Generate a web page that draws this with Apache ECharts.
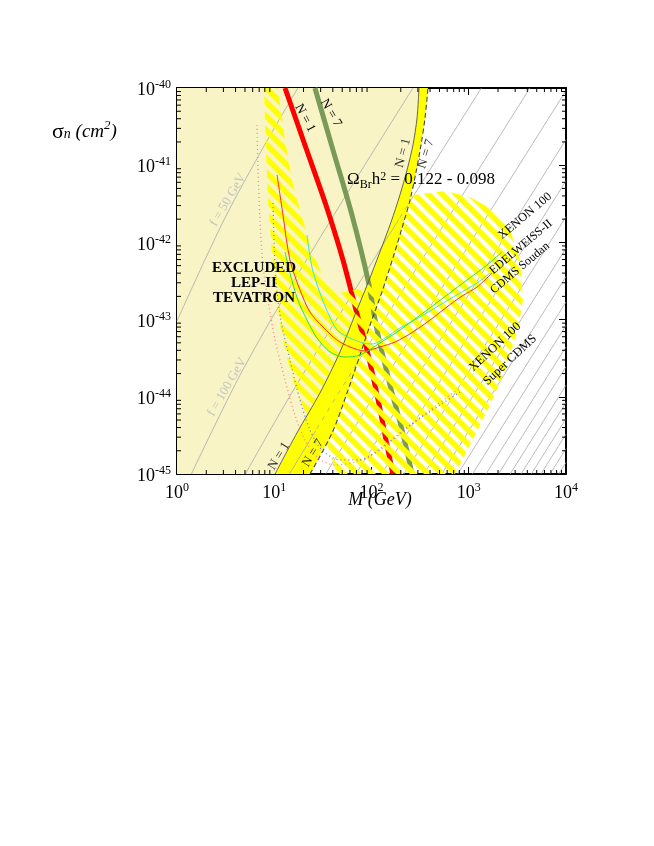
<!DOCTYPE html>
<html><head><meta charset="utf-8">
<script src="https://cdn.jsdelivr.net/npm/echarts@6/dist/echarts.min.js"></script>
<style>html,body{margin:0;padding:0;background:#fff}#c{width:654px;height:846px}</style>
</head><body><div id="c"></div>
<script>
// ---------- data (M in GeV, sigma in cm^2) ----------
const xRange = [1, 1e4];
const yRange = [1e-45, 1e-40];

// yellow relic band: N=1 edge (solid) and N=7 edge (dashed)
const bandN1 = [[10.2,1e-45],[17.1,3.40e-45],[29.5,1.12e-44],[47.4,3.80e-44],[67.6,1.15e-43],[92.0,2.98e-43],[122,7.51e-43],[159,1.84e-42],[196,4.11e-42],[232,8.67e-42],[267,1.83e-41],[294,4.09e-41],[308,1e-40]];
const bandN7 = [[23.3,1e-45],[39.3,3.40e-45],[56.0,1.12e-44],[76.2,3.48e-44],[96.6,8.51e-44],[128,2.28e-43],[166,6.28e-43],[206,1.54e-42],[249,3.54e-42],[287,8.16e-42],[323,1.83e-41],[355,4.09e-41],[381,1e-40]];

// hatched (projected sensitivity) region outline
const hatchRegion = [[7.85,1e-40],[10.9,1e-40],[12.9,2.12e-41],[15.2,6.43e-42],[18.4,2.63e-42],[23.3,9.25e-43],[31.0,3.78e-43],[47.4,2.21e-43],[85.7,2.57e-43],[122,5.09e-43],[163,1.07e-42],[206,2.63e-42],[267,4.11e-42],[570,4.63e-42],[1030,3.87e-42],[1775,2.63e-42],[2655,1.45e-42],[3365,5.92e-43],[3610,1.79e-43],[3205,7.33e-44],[2360,2.22e-44],[1655,7.83e-45],[1030,2.38e-45],[722,1e-45],[44.2,1e-45],[33.3,2.76e-45],[24.4,4.06e-45],[18.4,9.09e-45],[14.5,2.22e-44],[11.7,7.33e-44],[10.4,2.42e-43],[9.48,7.29e-43],[8.62,3.54e-42],[8.23,1.57e-41]];

// Omega_Br h^2 curves
const omegaN1 = [[12.9,1e-40],[21.2,1.67e-41],[34.0,3.05e-42],[50.9,5.92e-43],[69.3,1.33e-43],[89.9,4.04e-44],[117,9.09e-45],[141,2.76e-45],[166,1e-45]];
const omegaN7 = [[26.2,1e-40],[40.2,1.57e-41],[63.0,2.26e-42],[92.0,3.26e-43],[114,7.33e-44],[155,1.42e-44],[206,3.72e-45],[261,1e-45]];

// experimental limits
const xenon100 = [[10.7,7.46e-42],[12.3,2.26e-42],[14.5,5.92e-43],[18.4,2.42e-43],[23.3,1.25e-43],[31.7,8.02e-44],[44.2,5.44e-44],[60.1,4.42e-44],[85.7,3.92e-44],[122,4.42e-44],[175,5.13e-44],[267,6.91e-44],[400,9.88e-44],[598,1.46e-43],[853,2.02e-43],[1216,2.64e-43],[1734,4.01e-43]];
const edelweiss = [[21.7,1.25e-42],[24.4,4.80e-43],[29.5,2.21e-43],[35.7,1.22e-43],[44.2,7.33e-44],[60.1,5.78e-44],[81.8,4.98e-44],[101,4.83e-44],[138,5.78e-44],[196,7.78e-44],[315,1.08e-43],[506,1.55e-43],[813,2.21e-43],[1216,2.98e-43],[1655,4.01e-43]];
const cdms = [[12.9,7.51e-43],[14.5,4.01e-43],[17.5,1.79e-43],[21.7,9.88e-44],[27.5,5.78e-44],[37.5,3.80e-44],[53.4,3.28e-44],[76.2,3.48e-44],[122,4.98e-44],[196,7.33e-44],[372,1.33e-43],[598,2.08e-43],[959,3.26e-43],[1540,5.09e-43],[2198,7.51e-43]];

// projected sensitivities (dotted)
const projXenon = [[6.65,3.32e-41],[6.81,8.67e-42],[7.13,1.95e-42],[7.66,5.09e-43],[8.62,1.79e-43],[10.2,5.44e-44],[12.9,1.65e-44],[16.3,5.81e-45],[20.7,2.76e-45],[28.2,1.61e-45],[42.1,1.31e-45],[67.6,1.43e-45],[122,2.05e-45],[221,3.72e-45],[400,6.75e-45],[813,1.30e-44]];
const projCdms = [[9.71,3.24e-42],[9.94,1.07e-42],[10.4,3.26e-43],[11.7,9.88e-44],[14.5,3.00e-44],[18.4,9.09e-45],[23.3,3.72e-45],[31.0,2.05e-45],[47.4,1.52e-45],[76.2,1.52e-45],[138,2.38e-45],[249,4.31e-45],[506,7.83e-45],[813,1.15e-44]];

// constant-f lines (f = 50, 100, ... 1000 GeV)
const fLines = [
  [[1,9.6e-44],[3,1.89e-42],[8,1.85e-41],[17.5,1e-40]],
  [[1.405,1e-45],[4,1.48e-44],[10,1.18e-43],[50,3.40e-42],[267,1e-40]],
  [[5.05,1e-45],[12,6.83e-45],[30,4.66e-44],[200,2.18e-42],[1348,1e-40]],
  [[14.35,1e-45],[50,1.33e-44],[500,1.37e-42],[4258,1e-40]],
  [[33.8,1e-45],[100,9.08e-45],[1e4,9.24e-41]],
  [[69.1,1e-45],[1e4,2.15e-41]],
  [[127.2,1e-45],[1e4,6.27e-42]],
  [[216.3,1e-45],[1e4,2.15e-42]],
  [[346,1e-45],[1e4,8.40e-43]],
  [[527,1e-45],[1e4,3.61e-43]],
  [[771,1e-45],[1e4,1.69e-43]],
  [[1092,1e-45],[1e4,8.41e-44]],
  [[1503,1e-45],[1e4,4.43e-44]],
  [[2021,1e-45],[1e4,2.45e-44]],
  [[2664,1e-45],[1e4,1.41e-44]],
  [[3448,1e-45],[1e4,8.41e-45]],
  [[4394,1e-45],[1e4,5.18e-45]],
  [[5522,1e-45],[1e4,3.28e-45]],
  [[6855,1e-45],[1e4,2.13e-45]],
  [[8416,1e-45],[1e4,1.41e-45]]
];

// ---------- rendering ----------
// ECharts rounds tiny numbers to 0, so sigma is plotted in units of 1e-45 cm^2
const YEXP = 45, YS = 1e45;
const sc = pts => pts.map(p => [p[0], p[1] * YS]);
const yMin = yRange[0] * YS, yMax = yRange[1] * YS;

const FONT = '"Liberation Serif", "Times New Roman", serif';
const chart = echarts.init(document.getElementById('c'), null, {renderer:'canvas'});

// stripe pattern tile ("\" stripes)
const tile = document.createElement('canvas');
const TW = 14, TH = 14, TV = 8;
tile.width = TW; tile.height = TH;
(function(){
  const c = tile.getContext('2d');
  c.fillStyle = '#ffff00';
  for (const off of [-TH, 0, TH]) {
    c.beginPath();
    c.moveTo(-1, off - TH/TW); c.lineTo(TW+1, off + TH + TH/TW);
    c.lineTo(TW+1, off + TH + TH/TW + TV); c.lineTo(-1, off - TH/TW + TV);
    c.closePath(); c.fill();
  }
})();

const anchor = [[10, 1000]];
function polySeries(pts, style, z) {
  const P = sc(pts);
  return {type:'custom', coordinateSystem:'cartesian2d', z, silent:true, animation:false,
    data: anchor,
    renderItem: (p, api) => ({type:'polygon', shape:{points: P.map(q => api.coord(q))}, style})};
}
function lineSeries(data, color, width, z, extra) {
  return Object.assign({type:'line', data: sc(data), symbol:'none', showSymbol:false, silent:true, animation:false, z,
    lineStyle:{color, width}}, extra || {});
}

const excluded = [[1,1e-45],[1,1e-40]].concat(bandN1.slice().reverse());
const band = bandN1.concat(bandN7.slice().reverse());

const series = [];
series.push(polySeries(excluded, {fill:'#f8f4c6'}, 1));
series.push(polySeries(band, {fill:'#ffff00'}, 2));
fLines.forEach(l => series.push(lineSeries(l, '#a8a8a8', 0.8, 3, {smooth:0.3})));
series.push(lineSeries(omegaN1, '#ff0000', 5, 4, {smooth:0.3}));
series.push(lineSeries(omegaN7, '#7a9a58', 5, 4, {smooth:0.3}));
series.push(polySeries(hatchRegion, {fill:{image:tile, repeat:'repeat'}}, 5));
series.push(lineSeries(bandN1, '#555', 0.9, 6, {smooth:0.3}));
series.push(lineSeries(bandN7, '#444', 1.1, 6, {smooth:0.3, lineStyle:{color:'#444', width:1.1, type:[5,3]}}));
series.push(lineSeries(projXenon, '#ff8080', 1.3, 7, {smooth:0.3, lineStyle:{color:'#ff8080', width:1.3, type:[1,3]}}));
series.push(lineSeries(projCdms, '#7878ff', 1.3, 7, {smooth:0.3, lineStyle:{color:'#7878ff', width:1.3, type:[1,3]}}));
series.push(lineSeries(xenon100, '#ff2a2a', 1, 8, {smooth:0.3}));
series.push(lineSeries(edelweiss, '#44e0e0', 1, 8, {smooth:0.3}));
series.push(lineSeries(cdms, '#33dd33', 1, 8, {smooth:0.3}));

// minor log ticks on all four sides
const minorX = [], minorY = [];
for (let d = 0; d < 4; d++) for (let k = 2; k <= 9; k++) minorX.push(k * Math.pow(10, d));
for (let d = 0; d < 5; d++) for (let k = 2; k <= 9; k++) minorY.push(k * Math.pow(10, d));
series.push({type:'custom', coordinateSystem:'cartesian2d', z:20, silent:true, animation:false, data:anchor,
  renderItem:(p, api) => {
    const ch = [];
    const b = api.coord([xRange[0], yMin]), t = api.coord([xRange[1], yMax]);
    const ln = (x1,y1,x2,y2) => ({type:'line', shape:{x1,y1,x2,y2}, style:{stroke:'#000', lineWidth:1}});
    minorX.forEach(m => { const x = api.coord([m, yMin])[0]; ch.push(ln(x,b[1],x,b[1]-4)); ch.push(ln(x,t[1],x,t[1]+4)); });
    minorY.forEach(s => { const y = api.coord([xRange[0], s])[1]; ch.push(ln(b[0],y,b[0]+4,y)); ch.push(ln(t[0],y,t[0]-4,y)); });
    return {type:'group', children:ch};
  }});

const rich = {
  a:{fontFamily:FONT, fontSize:18, lineHeight:18, padding:[5,0,0,0], color:'#000'},
  b:{fontFamily:FONT, fontSize:12, lineHeight:12, verticalAlign:'top', color:'#000'}
};
const fmtX = v => '{a|10}{b|' + Math.round(Math.log10(v)) + '}';
const fmtY = v => '{a|10}{b|' + (Math.round(Math.log10(v)) - YEXP) + '}';
const axLine = {show:true, onZero:false, lineStyle:{color:'#000', width:2}};
const axTick = {show:true, inside:true, length:7, lineStyle:{color:'#000', width:1}};

const option = {
  animation:false,
  backgroundColor:'#fff',
  grid:{left:177, right:88, top:88, bottom:372, containLabel:false},
  xAxis:[
    {type:'log', logBase:10, min:xRange[0], max:xRange[1], position:'bottom', axisLine:axLine, axisTick:axTick, splitLine:{show:false},
     axisLabel:{formatter:fmtX, rich, margin:8}},
    {type:'log', logBase:10, min:xRange[0], max:xRange[1], position:'top', axisLine:axLine, axisTick:axTick, splitLine:{show:false}, axisLabel:{show:false}}
  ],
  yAxis:[
    {type:'log', logBase:10, min:yMin, max:yMax, position:'left', axisLine:axLine, axisTick:axTick, splitLine:{show:false},
     axisLabel:{formatter:fmtY, rich, margin:6}},
    {type:'log', logBase:10, min:yMin, max:yMax, position:'right', axisLine:axLine, axisTick:axTick, splitLine:{show:false}, axisLabel:{show:false}}
  ],
  series,
  graphic:[
    {type:'text', x:52, y:119, z:100, style:{text:'{s|σ}{n|n}{c| (cm}{p|2}{c|)}', rich:{
      s:{fontFamily:FONT, fontSize:22, lineHeight:22, padding:[4,0,0,0]},
      n:{fontFamily:FONT, fontSize:14, fontStyle:'italic', lineHeight:14, verticalAlign:'bottom'},
      c:{fontFamily:FONT, fontSize:19, fontStyle:'italic', lineHeight:20, padding:[4,0,0,0]},
      p:{fontFamily:FONT, fontSize:13, fontStyle:'italic', lineHeight:13, verticalAlign:'top'}}}},
    {type:'text', x:380, y:500, z:100, style:{text:'M (GeV)', fontFamily:FONT, fontSize:18, fontStyle:'italic', fill:'#000', align:'center', verticalAlign:'middle'}},
    {type:'text', x:254, y:283, z:100, style:{text:'EXCLUDED\nLEP-II\nTEVATRON', fontFamily:FONT, fontSize:15, fontWeight:'bold', lineHeight:15, fill:'#000', align:'center', verticalAlign:'middle'}},
    {type:'text', x:347, y:171, z:100, style:{text:'{a|Ω}{s|Br}{a|h}{p|2}{a| = 0.122 - 0.098}', rich:{
      a:{fontFamily:FONT, fontSize:17, lineHeight:20, padding:[6,0,8,0], color:'#000'},
      s:{fontFamily:FONT, fontSize:12, lineHeight:12, verticalAlign:'bottom', color:'#000'},
      p:{fontFamily:FONT, fontSize:12, lineHeight:12, verticalAlign:'top', color:'#000'}}}},
    {type:'text', x:305, y:118, rotation:-62*Math.PI/180, z:100, style:{text:'N = 1', fontFamily:FONT, fontSize:13, fill:'#000', align:'center', verticalAlign:'middle'}},
    {type:'text', x:331, y:113, rotation:-60*Math.PI/180, z:100, style:{text:'N = 7', fontFamily:FONT, fontSize:13, fill:'#000', align:'center', verticalAlign:'middle'}},
    {type:'text', x:403, y:153, rotation:75*Math.PI/180, z:100, style:{text:'N = 1', fontFamily:FONT, fontSize:13, fill:'#333', align:'center', verticalAlign:'middle'}},
    {type:'text', x:426, y:154, rotation:72*Math.PI/180, z:100, style:{text:'N = 7', fontFamily:FONT, fontSize:13, fill:'#333', align:'center', verticalAlign:'middle'}},
    {type:'text', x:279, y:456, rotation:58*Math.PI/180, z:100, style:{text:'N = 1', fontFamily:FONT, fontSize:13, fill:'#333', align:'center', verticalAlign:'middle'}},
    {type:'text', x:313, y:453, rotation:58*Math.PI/180, z:100, style:{text:'N = 7', fontFamily:FONT, fontSize:13, fill:'#333', align:'center', verticalAlign:'middle'}},
    {type:'text', x:228, y:200, rotation:59*Math.PI/180, z:100, style:{text:'f = 50 GeV', fontFamily:FONT, fontSize:13, fill:'#c4c4c4', align:'center', verticalAlign:'middle'}},
    {type:'text', x:227, y:387, rotation:60*Math.PI/180, z:100, style:{text:'f = 100 GeV', fontFamily:FONT, fontSize:13, fill:'#c4c4c4', align:'center', verticalAlign:'middle'}},
    {type:'text', x:525, y:216, rotation:40*Math.PI/180, z:100, style:{text:'XENON 100', fontFamily:FONT, fontSize:12.5, fill:'#000', align:'center', verticalAlign:'middle'}},
    {type:'text', x:521, y:247, rotation:40*Math.PI/180, z:100, style:{text:'EDELWEISS-II', fontFamily:FONT, fontSize:12, fill:'#000', align:'center', verticalAlign:'middle'}},
    {type:'text', x:520, y:268, rotation:40*Math.PI/180, z:100, style:{text:'CDMS Soudan', fontFamily:FONT, fontSize:12, fill:'#000', align:'center', verticalAlign:'middle'}},
    {type:'text', x:495, y:347, rotation:43*Math.PI/180, z:100, style:{text:'XENON 100', fontFamily:FONT, fontSize:12.5, fill:'#000', align:'center', verticalAlign:'middle'}},
    {type:'text', x:510, y:360, rotation:43*Math.PI/180, z:100, style:{text:'Super CDMS', fontFamily:FONT, fontSize:12.5, fill:'#000', align:'center', verticalAlign:'middle'}}
  ]
};
chart.setOption(option);
</script></body></html>
